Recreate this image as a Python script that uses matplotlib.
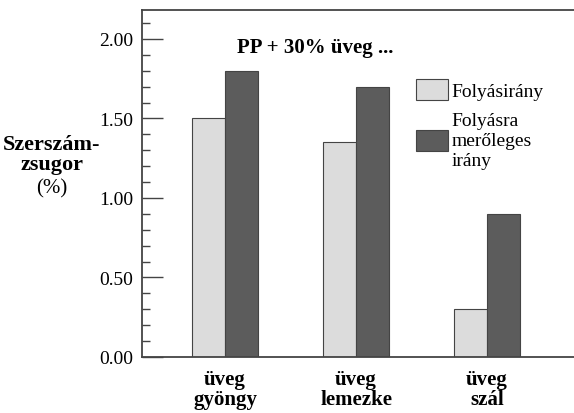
import numpy as np
from matplotlib import pyplot as plt

plt.rcParams['font.family'] = ['Liberation Serif', 'DejaVu Serif']

categories = ['üveg\ngyöngy', 'üveg\nlemezke', 'üveg\nszál']
flowDir = [1.50, 1.35, 0.30]
crossDir = [1.80, 1.70, 0.90]
seriesNames = ['Folyásirány', 'Folyásra\nmerőleges\nirány']
yTicks = [0.0, 0.5, 1.0, 1.5, 2.0]
yTickLabels = ['0.00', '0.50', '1.00', '1.50', '2.00']

lightColor = '#dcdcdc'
darkColor = '#5c5c5c'
edgeColor = '#444444'

fig = plt.figure(figsize=(5.74, 4.14), dpi=100)
ax = fig.add_axes([0.2474, 0.1353, 0.7526, 0.8393])

x = np.arange(len(categories))
width = 0.25
b1 = ax.bar(x - width / 2, flowDir, width, color=lightColor, edgecolor=edgeColor, linewidth=0.8,
            label=seriesNames[0])
b2 = ax.bar(x + width / 2, crossDir, width, color=darkColor, edgecolor=edgeColor, linewidth=0.8,
            label=seriesNames[1])

ax.set_xlim(-0.634, 2.664)
ax.set_ylim(0, 2.185)

ax.set_yticks(yTicks)
ax.set_yticklabels(yTickLabels, fontsize=14)
ax.set_yticks(np.arange(0, 2.2, 0.1), minor=True)
ax.tick_params(axis='y', which='major', direction='in', length=15, width=1, color=edgeColor, pad=6.5)
ax.tick_params(axis='y', which='minor', direction='in', length=6, width=1, color=edgeColor)

ax.set_xticks(x)
ax.set_xticklabels(categories, fontsize=15, fontweight='bold', linespacing=0.95)
ax.tick_params(axis='x', length=0, pad=9)

ax.spines['right'].set_visible(False)
for s in ['left', 'top', 'bottom']:
    ax.spines[s].set_color(edgeColor)
    ax.spines[s].set_linewidth(1.3)

ax.text(0.22, 0.893, 'PP + 30% üveg ...', transform=ax.transAxes, fontsize=15, fontweight='bold',
        va='center', ha='left')

fig.text(0.0906, 0.650, 'Szerszám-', fontsize=16, fontweight='bold', ha='center', va='center')
fig.text(0.0906, 0.601, 'zsugor', fontsize=16, fontweight='bold', ha='center', va='center')
fig.text(0.0906, 0.543, '(%)', fontsize=15, ha='center', va='center')

leg = ax.legend(handles=[b1, b2], loc='upper left', bbox_to_anchor=(0.635, 0.80), frameon=False,
                fontsize=14, handlelength=1.65, handleheight=1.3, handletextpad=0.15,
                labelspacing=0.6, borderpad=0, borderaxespad=0)
for t in leg.get_texts():
    t.set_linespacing(1.25)

fig.savefig('out.png', dpi=100)
